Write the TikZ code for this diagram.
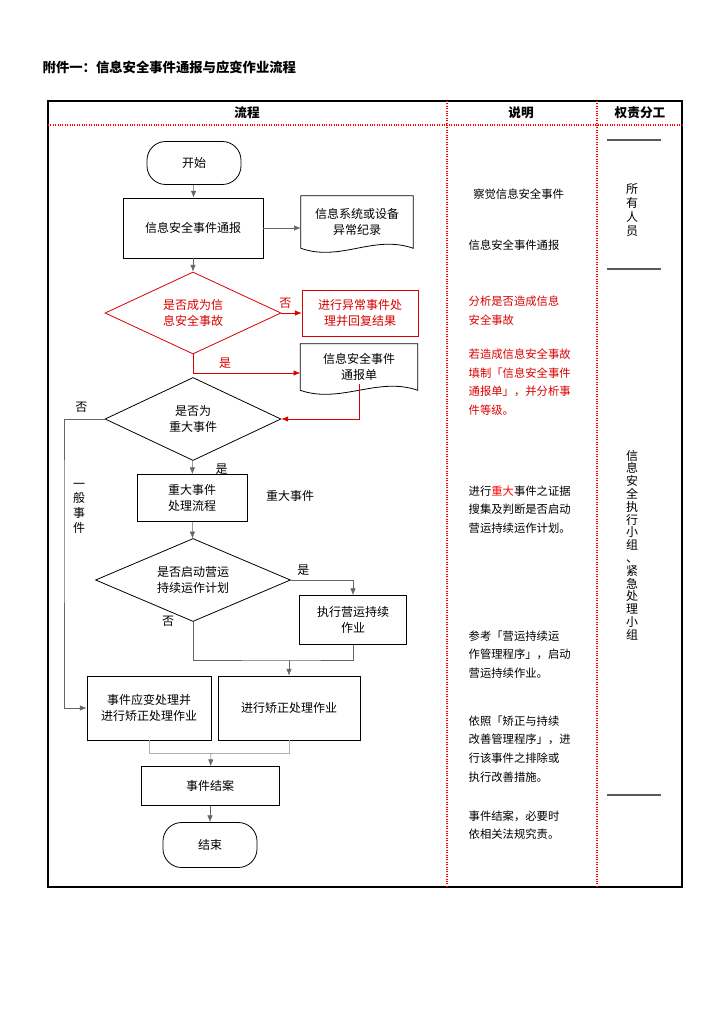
\documentclass[tikz,border=0pt]{standalone}
\usepackage{fontspec}
\setmainfont{Noto Sans CJK SC}
\usetikzlibrary{arrows.meta,shapes.geometric,calc}

\tikzset{
  box/.style={draw,semithick,minimum width=#1,align=center,inner sep=2pt},
  term/.style={draw,semithick,rounded corners=14pt,minimum width=94\unitpx,minimum height=43\unitpx},
  choice/.style={draw,semithick,diamond,aspect=2.15,inner sep=0pt,align=center},
  doc/.style={minimum width=112\unitpx,align=center},
  flow/.style={-{Latex[length=5pt,width=4pt]},draw=gray!80!black},
  bad/.style={red!85!black},
  note/.style={anchor=north west,align=left,font=\fontsize{8.5}{14}\selectfont}
}
\newcommand\unitpx{pt*0.75}
\newcommand\docwave[1]{%
  \draw[semithick] (#1.south west) -- (#1.north west) -- (#1.north east) -- (#1.south east)
    .. controls +(-40,-14) and +(40,14) .. (#1.south west);}

\begin{document}
\begin{tikzpicture}[x=0.75pt,y=-0.75pt,font=\fontsize{9}{12}\selectfont]
\useasboundingbox (0,0) rectangle (725,1029);
%----------------------------------------------------
% title and frame
%----------------------------------------------------
\node[anchor=west,font=\fontsize{10}{12}\selectfont\bfseries] (title) at (38,67) {附件一：信息安全事件通报与应变作业流程};
\draw[very thick] (48,101) rectangle (682,887);
\draw[red,densely dotted,thick] (48,125) -- (682,125);
\draw[red,densely dotted,thick] (447,101) -- (447,887);
\draw[red,densely dotted,thick] (597,101) -- (597,887);
\node[font=\fontsize{9.5}{12}\selectfont\bfseries] (h1) at (247,113) {流程};
\node[font=\fontsize{9.5}{12}\selectfont\bfseries] (h2) at (521,113) {说明};
\node[font=\fontsize{9.5}{12}\selectfont\bfseries] (h3) at (640,113) {权责分工};

%----------------------------------------------------
% flow chart
%----------------------------------------------------
\node[term] (start) at (194,163) {开始};
\node[box=140\unitpx,minimum height=60\unitpx] (report) at (193,228) {信息安全事件通报};
\node[doc,minimum height=52\unitpx] (log) at (357,222) {信息系统或设备\\异常纪录};
\docwave{log}
\node[choice,bad,minimum width=176\unitpx,minimum height=82\unitpx] (acc) at (193,313) {是否成为信\\息安全事故};
\node[box=116\unitpx,bad,minimum height=46\unitpx] (abn) at (360,313) {进行异常事件处\\理并回复结果};
\node[doc,minimum width=117\unitpx,minimum height=46\unitpx] (form) at (359,367) {信息安全事件\\通报单};
\docwave{form}
\node[choice,minimum width=176\unitpx,minimum height=83\unitpx] (major) at (193,419) {是否为\\重大事件};
\node[box=110\unitpx,minimum height=47\unitpx] (mproc) at (192,498) {重大事件\\处理流程};
\node (mlabel) at (290,496) {重大事件};
\node[choice,minimum width=195\unitpx,minimum height=83\unitpx] (bcp) at (193,580) {是否启动营运\\持续运作计划};
\node[box=107\unitpx,minimum height=49\unitpx] (runbcp) at (353,620) {执行营运持续\\作业};
\node[box=124\unitpx,minimum height=64\unitpx] (resp) at (149,708) {事件应变处理并\\进行矫正处理作业};
\node[box=142\unitpx,minimum height=64\unitpx] (fix) at (289,708) {进行矫正处理作业};
\node[box=138\unitpx,minimum height=39\unitpx] (close) at (210,786) {事件结案};
\node[term,minimum height=45\unitpx] (stop) at (210,845) {结束};

\coordinate (m1) at (211,753);
\coordinate (m2) at (289,660);

\draw[flow] (start) -- (report);
\draw[flow] (report.east) -- (log.west |- report.east);
\draw[flow] (report) -- (acc);
\draw[flow,draw=red!85!black,bad] (acc) -- node[above,pos=0.2] {否} (abn);
\draw[flow,draw=red!85!black,bad] (acc.south) |- node[above right,pos=0.6] {是} (form.west |- 0,373);
\draw[flow,draw=red!85!black] (form.south) ++(0,-6) |- (major.east);
\draw[flow] (major.west) -| (64,500) |- (resp.west);
\node[anchor=south east] (no1) at (92,417) {否};
\node[align=center,font=\fontsize{9}{11}\selectfont] (gen) at (79,508) {一\\般\\事\\件};
\draw[flow] (major) -- node[right,pos=0.6,xshift=14pt] {是} (mproc);
\draw[flow] (mproc) -- (bcp);
\draw[flow] (bcp.east) -| node[above,pos=0.1] {是} (runbcp.north);
\node (no2) at (168,621) {否};
\draw[gray!80!black] (bcp.south) |- (m2) -| (runbcp.south);
\draw[flow] (m2) -- (fix.north);
\draw[gray!60] (resp.south) |- (m1) -| (fix.south);
\draw[flow] (m1) -- (close);
\draw[flow] (close) -- (stop);

%----------------------------------------------------
% notes
%----------------------------------------------------
\node[note] (n1) at (466,184) {~察觉信息安全事件};
\node[note] (n2) at (464,235) {信息安全事件通报};
\node[note,red!85!black] (n3) at (464,291) {分析是否造成信息\\安全事故};
\node[note,red!85!black] (n4) at (464,344) {若造成信息安全事故\\填制「信息安全事件\\通报单」，并分析事\\件等级。};
\node[note] (n5) at (464,481) {进行{\color{red}重大}事件之证据\\搜集及判断是否启动\\营运持续运作计划。};
\node[note] (n6) at (464,626) {参考「营运持续运\\作管理程序」，启动\\营运持续作业。};
\node[note] (n7) at (464,711) {依照「矫正与持续\\改善管理程序」，进\\行该事件之排除或\\执行改善措施。};
\node[note] (n8) at (464,806) {事件结案，必要时\\依相关法规究责。};

%----------------------------------------------------
% roles
%----------------------------------------------------
\draw[gray!70!black,thick] (607,140) -- (661,140);
\draw[gray!70!black,thick] (607,269) -- (661,269);
\draw[gray!70!black,thick] (607,795) -- (661,795);
\node[align=center,font=\fontsize{9}{10.5}\selectfont] (all) at (632,210) {所\\有\\人\\员};
\node[align=center,font=\fontsize{9}{9.6}\selectfont] (team) at (632,545) {信\\息\\安\\全\\执\\行\\小\\组\\、\\紧\\急\\处\\理\\小\\组};
\end{tikzpicture}
\end{document}
